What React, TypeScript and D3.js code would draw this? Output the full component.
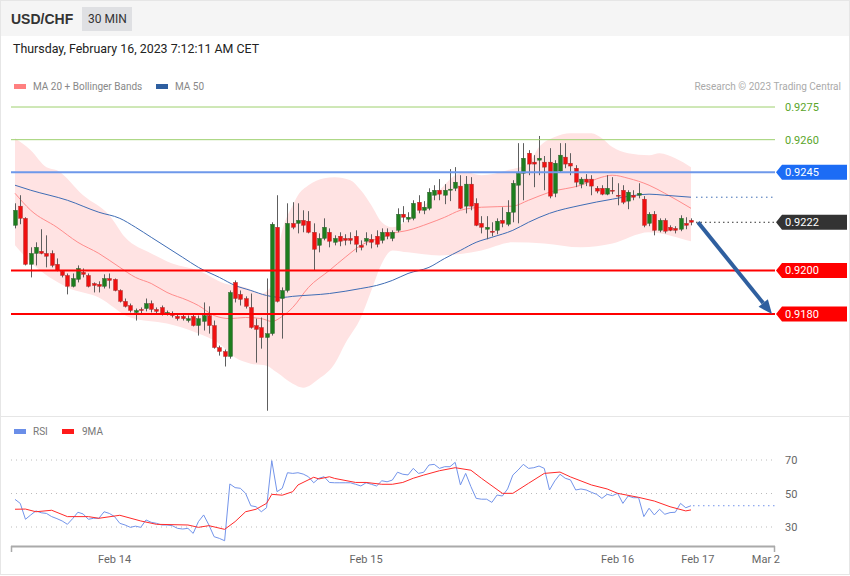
import React from 'react';
import * as d3 from 'd3';

// ---------- DATA ----------
const opens = [.92207,.92295,.92239,.92028,.92078,.92088,.92078,.92078,.92028,.91996,.91977,.91927,.91959,.91991,.91977,.91940,.91936,.91927,.91963,.91959,.91908,.91858,.91839,.91807,.91821,.91825,.91848,.91821,.91830,.91802,.91802,.91789,.91789,.91770,.91789,.91747,.91766,.91793,.91747,.91646,.91628,.91605,.91945,.91890,.91871,.91830,.91747,.91738,.91692,.91710,.92198,.91871,.91908,.92216,.92216,.92230,.92226,.92175,.92115,.92147,.92175,.92129,.92157,.92147,.92147,.92157,.92115,.92134,.92143,.92157,.92138,.92175,.92147,.92184,.92258,.92235,.92239,.92313,.92276,.92285,.92345,.92368,.92345,.92368,.92377,.92387,.92295,.92396,.92308,.92216,.92189,.92180,.92184,.92230,.92212,.92267,.92391,.92446,.92538,.92497,.92506,.92497,.92497,.92354,.92456,.92520,.92492,.92469,.92396,.92419,.92419,.92377,.92377,.92350,.92368,.92345,.92368,.92318,.92345,.92345,.92327,.92216,.92258,.92184,.92230,.92198,.92193,.92189,.92216,.92230];
const highs = [.92308,.92345,.92244,.92106,.92129,.92189,.92161,.92092,.92055,.92000,.91986,.91986,.92023,.92009,.91986,.91945,.91950,.91982,.91986,.91963,.91913,.91871,.91848,.91825,.91830,.91871,.91862,.91830,.91839,.91816,.91812,.91798,.91802,.91793,.91802,.91793,.91853,.91835,.91770,.91655,.91637,.91908,.91954,.91908,.91881,.91894,.91779,.91784,.91963,.92221,.92345,.91922,.92308,.92313,.92308,.92276,.92272,.92216,.92170,.92239,.92193,.92161,.92175,.92166,.92175,.92184,.92138,.92175,.92166,.92184,.92193,.92193,.92184,.92285,.92295,.92267,.92322,.92345,.92318,.92377,.92391,.92419,.92396,.92465,.92474,.92437,.92433,.92428,.92331,.92249,.92249,.92221,.92239,.92290,.92322,.92414,.92584,.92584,.92552,.92529,.92617,.92525,.92561,.92506,.92584,.92584,.92538,.92483,.92428,.92442,.92437,.92387,.92391,.92437,.92428,.92400,.92391,.92368,.92368,.92400,.92341,.92267,.92272,.92239,.92239,.92207,.92203,.92253,.92244,.92239];
const lows = [.92193,.92212,.92023,.91968,.92023,.92074,.92014,.92014,.91996,.91968,.91890,.91922,.91945,.91968,.91922,.91899,.91899,.91917,.91917,.91904,.91853,.91830,.91807,.91770,.91802,.91812,.91807,.91802,.91793,.91793,.91784,.91770,.91770,.91761,.91743,.91701,.91724,.91710,.91641,.91609,.91559,.91595,.91853,.91839,.91825,.91733,.91577,.91641,.91356,.91701,.91853,.91687,.91899,.92189,.92170,.92175,.92170,.92000,.92083,.92138,.92106,.92115,.92111,.92115,.92120,.92083,.92092,.92115,.92101,.92106,.92124,.92143,.92134,.92175,.92221,.92221,.92230,.92262,.92258,.92276,.92322,.92322,.92304,.92318,.92364,.92281,.92262,.92276,.92203,.92170,.92143,.92157,.92166,.92198,.92203,.92221,.92216,.92322,.92437,.92382,.92437,.92368,.92331,.92336,.92451,.92469,.92437,.92382,.92377,.92387,.92345,.92354,.92345,.92345,.92350,.92299,.92304,.92281,.92322,.92331,.92198,.92203,.92161,.92175,.92170,.92180,.92170,.92180,.92189,.92207];
const closes = [.92276,.92239,.92028,.92078,.92106,.92078,.92065,.92023,.92000,.91977,.91927,.91963,.92009,.91982,.91927,.91931,.91927,.91963,.91954,.91908,.91858,.91835,.91816,.91816,.91816,.91848,.91821,.91812,.91802,.91807,.91793,.91779,.91779,.91779,.91747,.91779,.91793,.91747,.91646,.91628,.91605,.91899,.91871,.91867,.91835,.91738,.91729,.91692,.91710,.92212,.91858,.91908,.92216,.92198,.92230,.92207,.92175,.92097,.92147,.92198,.92134,.92147,.92134,.92138,.92138,.92120,.92106,.92147,.92129,.92120,.92175,.92157,.92175,.92258,.92244,.92244,.92308,.92276,.92290,.92359,.92368,.92350,.92368,.92373,.92405,.92285,.92396,.92295,.92207,.92198,.92198,.92175,.92226,.92216,.92267,.92400,.92446,.92515,.92488,.92488,.92515,.92474,.92341,.92492,.92529,.92488,.92479,.92405,.92419,.92405,.92387,.92364,.92350,.92377,.92364,.92341,.92313,.92359,.92336,.92354,.92207,.92258,.92184,.92230,.92180,.92184,.92184,.92239,.92207,.92221];

// indicator samples: [candle index, value]
const ma20: [number, number][] = [[0,.92354],[3,.92276],[8,.92198],[12,.92129],[16,.92078],[20,.92014],[23,.91968],[26,.91940],[29,.91899],[33,.91862],[35,.91839],[38,.91793],[41,.91779],[44,.91784],[47,.91779],[49,.91766],[51,.91789],[53,.91830],[56,.91922],[60,.92000],[63,.92060],[66,.92115],[70,.92152],[72,.92170],[75,.92184],[79,.92216],[82,.92244],[85,.92276],[89,.92290],[95,.92295],[98,.92322],[102,.92359],[108,.92391],[112,.92428],[114,.92437],[117,.92423],[121,.92391],[124,.92354],[129,.92285]];
const ma50: [number, number][] = [[0,.92391],[3,.92368],[10,.92322],[16,.92267],[20,.92239],[23,.92198],[26,.92152],[29,.92106],[32,.92060],[35,.92014],[39,.91968],[42,.91931],[45,.91908],[48,.91885],[51,.91876],[53,.91881],[60,.91894],[66,.91917],[69,.91931],[72,.91954],[75,.91986],[79,.92014],[82,.92055],[85,.92092],[88,.92129],[91,.92152],[95,.92184],[98,.92221],[102,.92262],[108,.92299],[114,.92327],[121,.92350],[124,.92345],[129,.92336]];
const bbUpper: [number, number][] = [[0,.92607],[3,.92552],[6,.92474],[8,.92460],[13,.92345],[18,.92253],[21,.92152],[26,.92078],[30,.92032],[35,.92000],[40,.91940],[44,.91922],[47,.91894],[49,.91931],[51,.92184],[53,.92299],[54,.92345],[56,.92391],[59,.92423],[61,.92428],[64,.92414],[66,.92368],[68,.92299],[70,.92221],[72,.92198],[77,.92276],[81,.92368],[84,.92437],[86,.92451],[89,.92437],[94,.92460],[98,.92492],[100,.92566],[103,.92612],[106,.92630],[110,.92630],[112,.92607],[114,.92566],[117,.92538],[121,.92529],[123,.92538],[126,.92515],[129,.92474]];
const bbLower: [number, number][] = [[0,.92115],[3,.92037],[10,.91922],[16,.91876],[22,.91784],[29,.91756],[35,.91710],[39,.91664],[42,.91600],[45,.91572],[48,.91563],[50,.91531],[53,.91480],[55,.91462],[58,.91503],[61,.91572],[63,.91664],[66,.91784],[68,.91908],[70,.92032],[72,.92092],[75,.92083],[81,.92069],[89,.92092],[95,.92129],[101,.92124],[108,.92106],[114,.92124],[121,.92175],[127,.92147],[129,.92134]];

const rsi = [46.5,44.1,34.6,37.2,39.6,38.5,38.1,36.2,35,33.6,31.6,35,38.8,37.8,34.6,35.2,35.2,39.1,38.1,36.2,32.2,31.2,29.8,30.5,29.8,34.2,32.8,32.2,31.2,31.2,30.8,29.2,28.8,29.2,26.2,33.2,37.2,31.2,24.2,23.2,21.8,55.7,53.5,53.1,50.1,42.7,42.1,39.1,41.5,69.6,51.1,53.1,62.4,62,62.4,61.6,60,56.4,59.1,60,56.6,56.4,56.4,56.4,56.4,55.5,54.5,56.4,55.5,54.5,57.6,57,58,62.7,61.5,61.1,65,62,62.7,67,67.4,65,66,66,68.6,55.1,62,54.1,47.1,46.6,46.6,44.7,49.1,48.5,52.7,61,64,67.4,65,65.4,66.4,65,52.1,57.5,61.5,59.1,58.1,52.1,52.7,52.1,50.7,49.5,47.1,49.5,48.7,50.1,44.1,48.5,47.5,47.5,36.2,41.2,37.2,40.6,37.6,38.6,38.8,44.1,41.5,42.7];
const rsiMa9: [number, number][] = [[0,40.6],[2,40.7],[4,39.1],[7,40],[10,36.2],[14,36.2],[16,35.2],[20,37],[24,33.6],[27,31.6],[33,31.2],[35,29.8],[37,30.8],[40,28.6],[42,33.2],[44,39.1],[46,40.6],[48,44.1],[49,49.5],[51,49],[53,51.1],[54,55.1],[57,59.7],[58,58.7],[60,60],[61,59],[65,56.6],[67,56.6],[70,55.5],[72,55.5],[74,56.6],[76,59.1],[78,61],[81,63.6],[84,65.4],[87,63.9],[89,59.1],[93,50.1],[95,50.1],[98,56.1],[101,62],[104,62.8],[106,59.9],[110,55.1],[113,52.7],[115,50.1],[119,47.7],[122,45.5],[125,42.1],[128,39.6],[129,40.2]];

const levels = [0.9275, 0.9260, 0.9245, 0.9200, 0.9180];
const levelKinds = ['target', 'target', 'pivot', 'support', 'support'];
const rsiLevels = [70, 50, 30];
const xTickLabels = ['Feb 14', 'Feb 15', 'Feb 16', 'Feb 17', 'Mar 2'];
const xTickPos = [19, 67, 115, 130.3, 143.3];

// ---------- CHART ----------
const FONT = 'Roboto, "Liberation Sans", Arial, sans-serif';

export default function App() {
  const n = closes.length;
  const x = d3.scaleLinear().domain([0, n - 1]).range([15, 691]);
  const y = d3.scaleLinear().domain([0.918, 0.9275]).range([314, 107]);
  const ry = d3.scaleLinear().domain([30, 70]).range([527, 460]);
  const plotL = 11, plotR = 775;

  const pLine = d3.line<[number, number]>().x(d => x(d[0])).y(d => y(d[1])).curve(d3.curveMonotoneX);
  const up = pLine(bbUpper) as string;
  const lo = pLine([...bbLower].reverse()) as string;
  const bandD = up + 'L' + lo.slice(1) + 'Z';

  const rsiLine = d3.line<number>().x((_, i) => x(i)).y(d => ry(d));
  const maLine = d3.line<[number, number]>().x(d => x(d[0])).y(d => ry(d[1]));

  const levelStyle: Record<string, { stroke: string; w: number }> = {
    target: { stroke: '#9ed06e', w: 1 },
    pivot: { stroke: '#6e98ea', w: 2 },
    support: { stroke: '#ff0000', w: 2 },
  };

  const lastClose = closes[n - 1];
  const lastMa50 = ma50[ma50.length - 1][1];
  const lastRsi = rsi[n - 1];

  const tag = (val: number, color: string, key: string) => {
    const cy = y(val);
    const pts = [[776, cy], [782, cy - 7.5], [847, cy - 7.5], [847, cy + 7.5], [782, cy + 7.5]];
    return (
      <g key={key}>
        <polygon points={pts.map(p => p.join(',')).join(' ')} fill={color} />
        <text x={785} y={cy + 4} fontSize={11} fill="#fff" fontFamily={FONT}>{val.toFixed(4)}</text>
      </g>
    );
  };

  // arrow
  const ax0 = x(n - 1) + 7, ay0 = y(lastClose);
  const ax1 = 772, ay1 = y(0.918);
  const ang = Math.atan2(ay1 - ay0, ax1 - ax0);
  const headL = 14, headW = 6;
  const bx = ax1 - headL * Math.cos(ang), by = ay1 - headL * Math.sin(ang);
  const head = [
    [ax1, ay1],
    [bx + headW * Math.sin(ang), by - headW * Math.cos(ang)],
    [bx - headW * Math.sin(ang), by + headW * Math.cos(ang)],
  ];

  return (
    <svg width={850} height={576} style={{ position: 'absolute', left: 0, top: 0, background: '#fff' }}>
      <rect x={0.5} y={0.5} width={849} height={574} fill="#fff" stroke="#e6e6e6" />
      <rect x={1} y={1} width={848} height={35} fill="#f5f5f5" />
      <text x={11} y={24} fontSize={14} fontWeight="bold" fill="#333" fontFamily='"Liberation Sans", Arial, sans-serif'>USD/CHF</text>
      <rect x={82} y={7} width={50} height={24} fill="#dfe0e3" />
      <text x={88} y={23} fontSize={12} fill="#333" fontFamily={FONT}>30 MIN</text>
      <text x={13} y={53} fontSize={12.4} fill="#222" fontFamily={FONT}>Thursday, February 16, 2023 7:12:11 AM CET</text>

      {/* legend */}
      <rect x={14} y={84} width={12} height={5} fill="#ff8080" />
      <text x={33} y={90} fontSize={10} fill="#888" fontFamily={FONT}>MA 20 + Bollinger Bands</text>
      <rect x={156} y={84} width={12} height={5} fill="#2e5fa0" />
      <text x={175} y={90} fontSize={10} fill="#888" fontFamily={FONT}>MA 50</text>
      <text x={841} y={90} fontSize={10} fill="#aaa" textAnchor="end" fontFamily={FONT}>Research © 2023 Trading Central</text>

      {/* bollinger band */}
      <path d={bandD} fill="#ffe3e3" />
      <path d={pLine(ma20) as string} fill="none" stroke="#ff8c8c" strokeWidth={1} />
      <path d={pLine(ma50) as string} fill="none" stroke="#3f6db5" strokeWidth={1} />
      <line x1={x(n - 1) + 5} x2={plotR} y1={y(lastMa50)} y2={y(lastMa50)} stroke="#3f6db5" strokeDasharray="1.5,3.5" />
      <line x1={x(n - 1) + 5} x2={plotR} y1={y(lastClose)} y2={y(lastClose)} stroke="#333" strokeDasharray="1.5,3" />

      {/* candles */}
      {closes.map((c, i) => {
        const o = opens[i];
        const hi = Math.max(highs[i], o, c), lw = Math.min(lows[i], o, c);
        const cx = Math.round(x(i)) + 0.5;
        const top = y(Math.max(o, c)), bot = y(Math.min(o, c));
        const bull = c >= o;
        return (
          <g key={i}>
            <line x1={cx} x2={cx} y1={y(hi)} y2={y(lw)} stroke="#5e5e5e" strokeWidth={1} />
            <rect x={cx - 2} y={top} width={4} height={Math.max(1, bot - top)} fill={bull ? '#1e7d1e' : '#f01010'} stroke={bull ? '#2d5a2d' : '#9a3030'} strokeWidth={0.4} />
          </g>
        );
      })}

      {/* level lines */}
      {levels.map((lv, i) => {
        const st = levelStyle[levelKinds[i]];
        return <line key={'l' + i} x1={plotL} x2={plotR} y1={y(lv)} y2={y(lv)} stroke={st.stroke} strokeWidth={st.w} />;
      })}
      {levels.map((lv, i) => levelKinds[i] === 'target' ? (
        <text key={'t' + i} x={785} y={y(lv) + 4} fontSize={11} fill="#5aa52a" fontFamily={FONT}>{lv.toFixed(4)}</text>
      ) : null)}
      {levels.map((lv, i) => levelKinds[i] === 'pivot' ? tag(lv, '#1c6cf5', 'p' + i) : null)}
      {levels.map((lv, i) => levelKinds[i] === 'support' ? tag(lv, '#ff0000', 's' + i) : null)}
      {tag(lastClose, '#333333', 'last')}

      {/* arrow */}
      <line x1={ax0} y1={ay0} x2={bx} y2={by} stroke="#2f5f9f" strokeWidth={4} />
      <polygon points={head.map(p => p.join(',')).join(' ')} fill="#2f5f9f" />

      {/* RSI panel */}
      <line x1={1} x2={849} y1={416.5} y2={416.5} stroke="#e6e6e6" />
      <rect x={14} y={429} width={12} height={5} fill="#6a8ee8" />
      <text x={33} y={435} fontSize={10} fill="#777" fontFamily={FONT}>RSI</text>
      <rect x={62} y={429} width={12} height={5} fill="#ff1a1a" />
      <text x={82} y={435} fontSize={10} fill="#777" fontFamily={FONT}>9MA</text>
      {rsiLevels.map(v => (
        <g key={'r' + v}>
          <line x1={plotL} x2={plotR} y1={ry(v)} y2={ry(v)} stroke="#bbb" strokeDasharray="1,4" />
          <text x={785} y={ry(v) + 4} fontSize={11} fill="#666" fontFamily={FONT}>{v}</text>
        </g>
      ))}
      <path d={rsiLine(rsi) as string} fill="none" stroke="#7394ea" strokeWidth={1} />
      <path d={maLine(rsiMa9) as string} fill="none" stroke="#ff2a2a" strokeWidth={1} />
      <line x1={x(n - 1) + 2} x2={plotR} y1={ry(lastRsi)} y2={ry(lastRsi)} stroke="#7394ea" strokeDasharray="1.5,3.5" />

      {/* x axis */}
      <line x1={plotL} x2={plotR} y1={546.5} y2={546.5} stroke="#aaa" strokeWidth={2} />
      <line x1={plotL + 0.5} x2={plotL + 0.5} y1={546} y2={552} stroke="#aaa" strokeWidth={1.5} />
      <line x1={plotR - 0.5} x2={plotR - 0.5} y1={546} y2={552} stroke="#aaa" strokeWidth={1.5} />
      {xTickLabels.map((t, i) => (
        <text key={t} x={x(xTickPos[i])} y={563} fontSize={11} fill="#666" textAnchor="middle" fontFamily={FONT}>{t}</text>
      ))}
    </svg>
  );
}
